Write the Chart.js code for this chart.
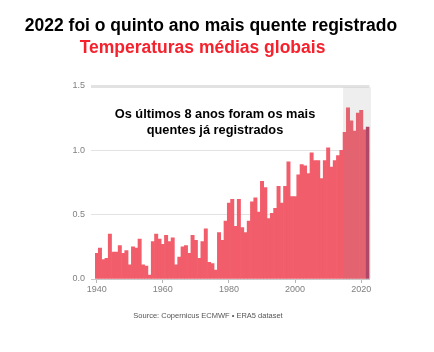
<!DOCTYPE html>
<html>
<head>
<meta charset="utf-8">
<script src="https://cdn.jsdelivr.net/npm/chart.js@4.4.0/dist/chart.umd.min.js"></script>
<style>
  body { margin: 0; background: #fff; font-family: 'Liberation Sans', Arial, sans-serif; }
  #wrap { position: relative; width: 434px; height: 352px; overflow: hidden; }
  #chart { position: absolute; left: 0; top: 0; }
  .txt { position: absolute; white-space: nowrap; text-align: center; }
  #title { left: 0; width: 422px; top: 16.8px; font-size: 17.5px; line-height: 17px; font-weight: bold; color: #000; }
  #subtitle { left: 0; width: 405px; top: 39.3px; font-size: 17.5px; line-height: 17px; font-weight: bold; color: #f5222d; }
  #note { left: 105px; width: 220px; top: 106px; font-size: 12.8px; line-height: 15.8px; font-weight: bold; color: #000; }
  #source { left: 0; width: 416px; top: 311px; font-size: 7.5px; color: #555; }
</style>
</head>
<body>
<div id="wrap">
  <canvas id="chart" width="434" height="352"></canvas>
  <div class="txt" id="title">2022 foi o quinto ano mais quente registrado</div>
  <div class="txt" id="subtitle">Temperaturas médias globais</div>
  <div class="txt" id="note">Os últimos 8 anos foram os mais<br>quentes já registrados</div>
  <div class="txt" id="source">Source: Copernicus ECMWF • ERA5 dataset</div>
</div>
<script>
const firstYear = 1940;
const lastYear = 2022;
const years = [];
for (let y = firstYear; y <= lastYear; y++) years.push(y);

// anomalias (°C)
const anomalies1940s = [0.20, 0.24, 0.15, 0.16, 0.35, 0.21, 0.21, 0.26, 0.20, 0.22];
const anomalies1950s = [0.11, 0.25, 0.24, 0.31, 0.11, 0.10, 0.03, 0.29, 0.35, 0.31];
const anomalies1960s = [0.27, 0.34, 0.29, 0.32, 0.11, 0.17, 0.25, 0.26, 0.20, 0.34];
const anomalies1970s = [0.30, 0.16, 0.29, 0.39, 0.13, 0.12, 0.07, 0.36, 0.30, 0.45];
const anomalies1980s = [0.59, 0.62, 0.41, 0.62, 0.40, 0.36, 0.45, 0.60, 0.63, 0.52];
const anomalies1990s = [0.76, 0.71, 0.47, 0.51, 0.55, 0.72, 0.59, 0.72, 0.91, 0.64];
const anomalies2000s = [0.64, 0.81, 0.89, 0.88, 0.82, 0.98, 0.92, 0.92, 0.78, 0.92];
const anomalies2010s = [1.02, 0.87, 0.92, 0.96, 1.00, 1.14, 1.33, 1.23, 1.15, 1.29];
const anomalies2020s = [1.31, 1.16, 1.18];
const values = [].concat(anomalies1940s, anomalies1950s, anomalies1960s, anomalies1970s,
  anomalies1980s, anomalies1990s, anomalies2000s, anomalies2010s, anomalies2020s);

const yTicks = [0, 0.5, 1.0, 1.5];
const xTickYears = [1940, 1960, 1980, 2000, 2020];
const hotStart = 2015;

const barColors = years.map(y => y === lastYear ? '#b53d62' : '#f25d6b');

const hotZone = {
  id: 'hotZone',
  afterDatasetsDraw(chart) {
    const { ctx, chartArea, scales } = chart;
    const x = scales.x;
    const i = years.indexOf(hotStart);
    const half = (x.getPixelForValue(1) - x.getPixelForValue(0)) / 2;
    const left = x.getPixelForValue(i) - half;
    const right = chartArea.right + 1.5;
    const top = scales.y.getPixelForValue(1.5) + 1.5;
    const bottom = scales.y.getPixelForValue(0);
    ctx.save();
    ctx.fillStyle = 'rgba(140,140,140,0.15)';
    ctx.fillRect(left, top, right - left, bottom - top);
    ctx.restore();
  }
};

new Chart(document.getElementById('chart'), {
  type: 'bar',
  data: {
    labels: years,
    datasets: [{
      data: values,
      backgroundColor: barColors,
      borderWidth: 0,
      barPercentage: 1.0,
      categoryPercentage: 1.0
    }]
  },
  options: {
    responsive: false,
    animation: false,
    layout: { padding: { top: 86, right: 64.5, bottom: 0, left: 0 } },
    plugins: { legend: { display: false }, tooltip: { enabled: false }, title: { display: false } },
    scales: {
      x: {
        afterFit: s => { s.height = 73; },
        grid: {
          offset: false,
          drawOnChartArea: false,
          tickLength: 4,
          color: ctx => xTickYears.includes(years[ctx.index]) ? '#b5b5b5' : 'rgba(0,0,0,0)'
        },
        border: { display: true, color: '#c8c8c8', width: 1 },
        ticks: {
          autoSkip: false,
          maxRotation: 0,
          padding: 1,
          color: '#808080',
          font: { family: 'Liberation Sans', size: 9 },
          callback: (v, i) => xTickYears.includes(years[i]) ? String(years[i]) : ''
        }
      },
      y: {
        min: 0,
        max: 1.5,
        afterFit: s => { s.width = 95; },
        afterBuildTicks: s => { s.ticks = yTicks.map(v => ({ value: v })); },
        border: { display: false },
        grid: {
          tickLength: 4,
          color: ctx => ctx.tick && ctx.tick.value === 0 ? '#c8c8c8' : '#e2e2e2',
          lineWidth: ctx => ctx.tick && ctx.tick.value === 1.5 ? 3 : 1
        },
        ticks: {
          padding: 6,
          color: '#808080',
          font: { family: 'Liberation Sans', size: 9 },
          callback: v => v.toFixed(1)
        }
      }
    }
  },
  plugins: [hotZone]
});
</script>
</body>
</html>
